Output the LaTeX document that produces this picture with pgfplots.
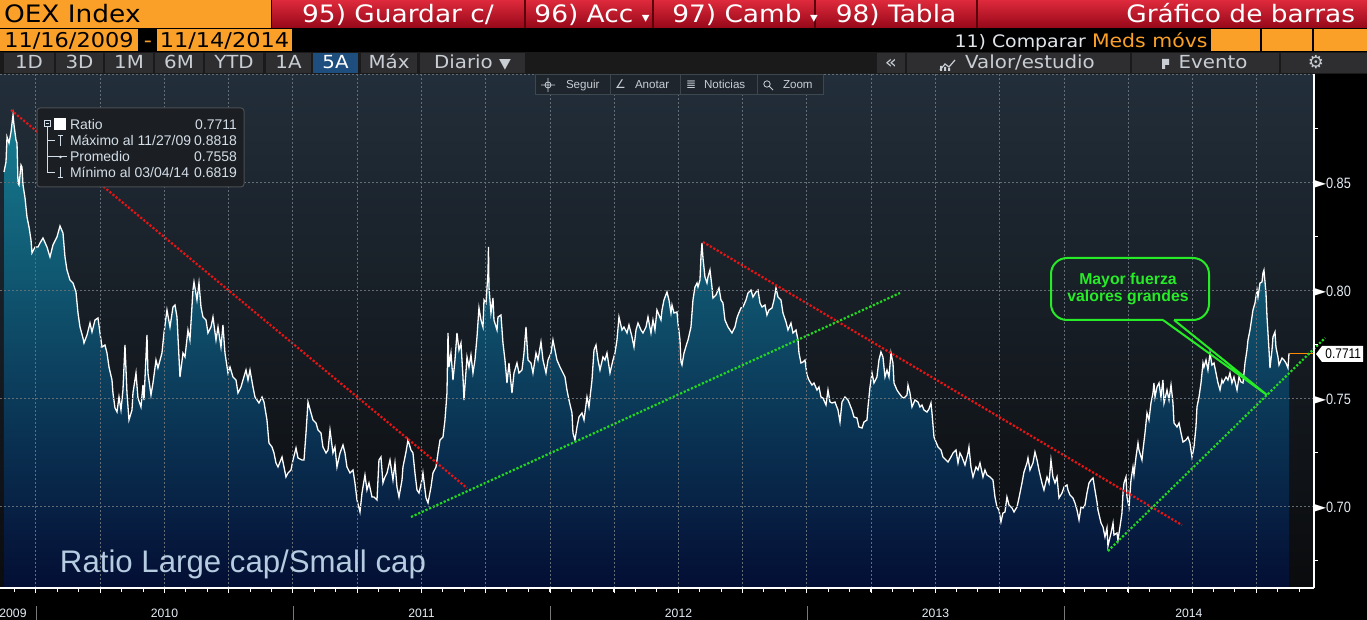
\documentclass[border=0pt]{standalone}
\usepackage{pgfplots}
\pgfplotsset{compat=1.18}
\usepackage{pgfplotstable}
\usepackage{fontspec}
\setmainfont{Liberation Sans}
\newfontfamily\bb{DejaVu Sans}[FakeStretch=1.1]
\newfontfamily\dv{DejaVu Sans}
\newfontfamily\cond{Liberation Sans}[FakeStretch=0.85]
\newcommand\fs[1]{\fontsize{#1}{#1}\selectfont}
\newcommand\tri{{\dv\fs{8}\textcolor{white}{►}}}
\definecolor{bborange}{RGB}{250,160,40}
\definecolor{bbredtop}{RGB}{222,42,60}
\definecolor{bbredbot}{RGB}{150,8,25}
\definecolor{bbsep}{RGB}{90,0,10}
\definecolor{rowbg}{RGB}{26,26,26}
\definecolor{btn}{RGB}{46,46,48}
\definecolor{btnblue}{RGB}{30,78,125}
\definecolor{btntext}{RGB}{200,206,212}
\definecolor{cmptext}{RGB}{225,230,235}
\definecolor{bgtop}{RGB}{34,46,58}
\definecolor{bgmid}{RGB}{20,25,30}
\definecolor{bgbot}{RGB}{10,11,13}
\definecolor{filltop}{RGB}{22,125,145}
\definecolor{fillmid}{RGB}{12,72,102}
\definecolor{fillbot}{RGB}{4,14,52}
\definecolor{gridc}{RGB}{100,108,118}
\definecolor{trred}{RGB}{230,20,20}
\definecolor{trgreen}{RGB}{35,215,35}
\definecolor{callg}{RGB}{40,235,40}
\definecolor{legbg}{RGB}{27,31,35}
\definecolor{legborder}{RGB}{75,78,82}
\definecolor{legtext}{RGB}{212,222,232}
\definecolor{bigtext}{RGB}{182,204,224}
\definecolor{lastorange}{RGB}{255,140,0}
\definecolor{tickc}{RGB}{228,236,244}
\definecolor{ctbg}{RGB}{30,37,44}
\definecolor{ctborder}{RGB}{62,70,78}
\definecolor{yearsep}{RGB}{120,120,120}

% Ratio OEX / small cap: x = horizontal pixel, y = vertical pixel
\pgfplotstableread{
x y
4 172
6 162
7 137
9 143
11 132
13 115
14 125
16 140
17 143
18 183
19 185
21 165
22 167
23 185
25 198
27 217
29 227
31 240
32 253
35 247
38 247
40 243
43 238
47 247
50 257
53 245
57 237
60 226
63 233
65 257
67 270
70 280
73 283
76 292
78 313
80 327
83 338
84 343
87 335
90 323
92 332
95 320
98 318
100 333
102 347
105 345
107 353
109 367
112 380
113 393
115 408
117 412
119 397
121 410
123 390
125 345
127 393
129 420
132 410
133 393
136 373
138 398
141 407
143 385
144 400
147 335
148 373
151 395
153 383
156 360
158 368
162 353
164 333
167 310
170 327
173 307
175 305
177 317
180 377
183 353
185 357
188 330
190 340
193 290
194 282
197 300
199 283
201 307
203 317
206 320
208 333
211 327
213 317
216 340
218 327
221 347
223 325
225 353
228 373
230 367
233 377
236 380
238 393
241 387
243 380
246 370
248 380
250 370
253 387
255 397
257 400
259 403
262 397
264 402
267 420
269 443
272 447
274 453
276 463
278 467
282 457
284 467
286 477
288 473
291 470
293 460
296 448
298 458
302 460
304 460
306 433
308 402
311 413
313 420
316 423
318 430
321 433
323 447
326 453
328 450
330 430
333 453
335 447
337 467
340 453
343 445
345 453
347 467
350 473
353 470
355 483
357 500
360 512
362 493
365 475
367 490
369 483
372 497
374 497
377 500
379 460
381 457
383 483
385 477
387 473
390 460
393 480
395 463
397 487
399 497
402 480
403 467
406 452
408 440
411 450
413 453
415 473
417 490
419 493
422 480
423 473
426 498
428 503
431 487
433 473
436 467
438 453
440 440
443 437
445 420
447 393
448 333
449 367
451 353
453 380
455 360
457 333
459 350
461 343
463 377
464 400
467 357
469 367
471 355
473 373
475 360
477 337
479 308
481 320
483 327
484 300
486 303
488 273
488.5 247
489 287
491 313
493 298
494 320
497 330
498 317
501 315
503 343
505 360
507 383
509 363
512 393
514 373
517 363
519 373
522 370
524 353
526 327
528 360
531 363
533 373
536 353
538 360
541 342
543 360
546 373
548 360
551 353
553 340
555 350
557 360
560 367
563 373
565 377
567 390
569 400
572 413
573 433
575 440
577 427
579 417
582 413
584 420
587 397
589 407
592 380
594 350
596 345
598 360
600 370
603 357
605 360
607 353
610 373
613 360
615 353
617 340
619 317
622 330
624 327
627 333
629 325
632 337
634 347
636 330
638 323
641 330
643 333
646 327
648 317
651 333
653 320
655 330
657 310
661 320
662 310
664 300
667 292
669 300
671 313
672 305
674 313
677 312
678 323
680 340
681 362
682 365
684 353
687 343
688 340
691 327
693 300
695 287
697 283
698 287
700 280
701 257
702 243
703 258
705 277
707 283
708 277
710 270
712 287
713 298
716 295
718 290
719 288
721 300
723 303
725 320
728 327
730 330
732 333
735 327
737 318
738 315
741 308
743 307
746 300
748 293
751 290
753 297
756 292
758 290
760 303
762 307
765 305
767 315
769 310
772 308
774 300
776 288
778 297
781 300
783 313
786 322
788 330
791 323
793 333
796 330
798 340
799 353
801 363
803 362
805 360
807 375
809 380
812 385
814 383
817 390
819 387
821 397
823 398
826 405
828 390
830 402
832 403
835 402
838 410
840 422
842 402
845 397
848 400
850 405
852 410
854 417
857 418
859 427
862 428
864 422
867 420
868 407
870 387
872 373
874 383
877 377
879 360
881 352
883 357
885 377
887 370
889 377
891 353
893 363
894 383
897 390
899 393
902 397
904 398
907 395
908 385
910 393
912 407
915 400
918 402
920 407
922 405
924 410
927 412
929 409
931 403
932 413
934 437
936 442
938 447
941 450
943 457
946 460
948 462
951 457
953 453
956 450
958 463
960 453
962 457
965 465
968 453
969 447
971 467
973 477
976 467
978 470
980 463
983 477
985 470
987 475
990 477
993 480
995 497
997 507
999 510
1001 522
1003 513
1005 512
1007 497
1009 505
1012 508
1014 512
1017 507
1019 498
1022 483
1024 472
1027 463
1028 458
1030 470
1033 463
1035 452
1037 460
1039 470
1042 483
1044 490
1047 477
1049 483
1051 460
1053 477
1055 483
1057 477
1059 498
1062 493
1064 487
1067 485
1068 490
1070 495
1073 498
1075 503
1077 510
1079 520
1081 507
1083 508
1085 505
1087 493
1089 483
1091 480
1093 478
1095 490
1097 502
1098 510
1101 523
1103 527
1105 537
1107 528
1108 546
1111 533
1113 523
1114 535
1117 533
1118 540
1120 527
1122 513
1123 493
1124 483
1126 477
1127 497
1129 507
1131 480
1133 467
1134 475
1136 457
1138 443
1139 450
1142 460
1143 450
1145 433
1147 413
1149 420
1151 403
1153 393
1154 383
1155 397
1157 387
1159 383
1161 397
1163 380
1164 403
1167 390
1169 400
1171 385
1173 403
1174 423
1177 427
1179 423
1181 433
1183 442
1186 440
1188 437
1190 443
1192 457
1194 447
1196 427
1197 407
1199 397
1201 383
1203 363
1204 367
1206 360
1208 370
1210 353
1212 365
1214 363
1216 373
1218 383
1220 390
1222 380
1223 383
1226 377
1228 380
1230 373
1232 383
1234 377
1237 390
1239 377
1241 382
1243 383
1245 363
1247 350
1248 340
1250 330
1252 317
1253 310
1255 303
1257 290
1258 297
1260 283
1262 282
1263 273
1264 270
1266 293
1267 317
1269 350
1270 368
1272 350
1273 337
1275 332
1276 347
1278 357
1279 365
1282 358
1284 360
1286 363
1288 368
1289 353.4
}\ratio

\begin{document}
\begin{tikzpicture}[x=0.5pt,y=-0.5pt,t/.style={inner sep=0pt,outer sep=0pt}]
\useasboundingbox (0,0) rectangle (1367,620);
\fill[black] (0,0) rectangle (1367,620);

\begin{axis}[
  at={(0pt,-294pt)}, anchor=south west,
  scale only axis, width=657pt, height=257pt,
  xmin=2009.85992, xmax=2014.97276,
  ymin=0.6625, ymax=0.90046,
  x filter/.expression={2010+(x-36)/257},
  y filter/.expression={0.70+(507-y)/2160},
  clip=false, axis on top,
  axis background/.style={top color=bgtop, middle color=bgmid, bottom color=bgbot},
  axis x line*=bottom, axis y line*=right,
  axis line style={white, line width=0.75pt},
  tick align=outside,
  major tick length=2.5pt, minor tick length=2pt,
  tick style={white, line width=0.5pt},
  xtick={2010,2010.25,...,2014.8},
  minor xtick={2009.9166667,2010,...,2014.95},
  xticklabels={},
  ytick={0.70,0.75,0.80,0.85,0.90},
  yticklabels={{\tri0.70},{\tri0.75},{\tri0.80},{\tri0.85},{}},
  minor ytick={0.675,0.725,0.775,0.825,0.875},
  every major y tick/.append style={draw=none},
  yticklabel style={font=\cond\fs{7.5}, text=tickc, anchor=west, inner sep=0pt, xshift=-2.8pt},
  xmajorgrids, ymajorgrids,
  major grid style={gridc, dash pattern=on 1pt off 1pt, line width=0.5pt},
  trline/.style={line width=1.1pt, dash pattern=on 1.1pt off 0.9pt},
]
\addplot[draw=none, top color=filltop, middle color=fillmid, bottom color=fillbot]
  table[x=x,y=y]{\ratio} |- (rel axis cs:0.003044,0) -- cycle;
\addplot[white, line width=0.65pt] table[x=x,y=y]{\ratio};
\addplot[lastorange, line width=0.6pt] coordinates {(1289,353.4) (1314,353.4)};
\addplot[trred, trline] coordinates {(11,110) (467,488)};
\addplot[trred, trline] coordinates {(703,242) (1182,525)};
\addplot[trgreen, trline] coordinates {(411,517) (900,293)};
\addplot[trgreen, trline] coordinates {(1108,551) (1325,338)};
\foreach \yr/\xp in {2009/2009.9105,2010/2010.5,2011/2011.5,2012/2012.5,2013/2013.5,2014/2014.486}{
  \edef\tmp{\noexpand\node[t,anchor=center,font=\noexpand\fs{6.1},text=tickc,yshift=-12.5pt] at (axis cs:\xp,0.6625) {\yr};}\tmp
}
\end{axis}

% year separators
\foreach \xx in {36,293,550,807,1064} \draw[yearsep, line width=0.5pt] (\xx,606) -- (\xx,620);

% last value tag
\fill[white] (1316,354) -- (1322,346) -- (1363,346) -- (1363,362) -- (1322,362) -- cycle;
\node[t,anchor=base east,font=\cond\fs{7},text=black] at (1361,358.5) {0.7711};

% legend box
\filldraw[fill=legbg, draw=legborder, line width=0.5pt, rounded corners=1.5pt] (37,108) rectangle (244,187);
\draw[legtext, line width=0.5pt] (44.3,120.7) rectangle (50,126.3);
\draw[legtext, line width=0.5pt] (45.5,123.5) -- (48.8,123.5);
\fill[white] (54.3,118.3) rectangle (65.7,130);
\draw[legtext, line width=0.5pt] (47,127) -- (47,173) -- (55,173);
\draw[legtext, line width=0.5pt] (47,141) -- (55,141) (47,157) -- (55,157);
\draw[legtext, line width=0.6pt] (57.7,135.5) -- (63.3,135.5) (60.5,135.5) -- (60.5,146);
\draw[legtext, line width=0.5pt] (55,157) -- (67,157);
\fill[legtext] (60.5,157) circle (1.4);
\draw[legtext, line width=0.6pt] (60.5,167) -- (60.5,177.5) (57.7,177.5) -- (63.3,177.5);
\begin{scope}[every node/.style={t,font=\fs{7},text=legtext}]
\node[anchor=base west] at (70,130) {Ratio};
\node[anchor=base west] at (70,146) {Máximo al 11/27/09};
\node[anchor=base west] at (70,162) {Promedio};
\node[anchor=base west] at (70,178) {Mínimo al 03/04/14};
\node[anchor=base east] at (237,130) {0.7711};
\node[anchor=base east] at (237,146) {0.8818};
\node[anchor=base east] at (237,162) {0.7558};
\node[anchor=base east] at (237,178) {0.6819};
\end{scope}

% big title
\node[t,anchor=base west,font=\fs{15.6},text=bigtext] at (60,572) {Ratio Large cap/Small cap};

% callout
\draw[callg, line width=1pt, rounded corners=8pt] (1163,320) -- (1051,320) -- (1051,258) -- (1209,258) -- (1209,320) -- (1174,320);
\draw[callg, line width=1pt, line join=miter] (1163,320) -- (1267,395) -- (1174,320);
\node[t,anchor=base,font=\bfseries\fs{7.9},text=callg] at (1128,285) {Mayor fuerza};
\node[t,anchor=base,font=\bfseries\fs{7.9},text=callg] at (1128,302) {valores grandes};

% ---------- header row 1
\fill[bborange] (0,0) rectangle (271,28);
\shade[top color=bbredtop, bottom color=bbredbot] (272,0) rectangle (1367,28);
\foreach \xx in {524,652,814,976} \fill[bbsep] (\xx,0) rectangle (\xx+2,28);
\begin{scope}[every node/.style={t,font=\bb\fs{12}}]
\node[anchor=base west,text=black] at (4,23) {OEX Index};
\node[anchor=base,text=white] at (398,23) {95) Guardar c/};
\node[anchor=base,text=white] at (592,23) {96) Acc {\fs{7}▾}};
\node[anchor=base,text=white] at (745,23) {97) Camb {\fs{7}▾}};
\node[anchor=base,text=white] at (896,23) {98) Tabla};
\node[anchor=base east,text=white] at (1355,23) {Gráfico de barras};
\end{scope}

% ---------- header row 2
\fill[black] (0,28) rectangle (1367,52);
\fill[bborange] (0,29) rectangle (138,51);
\fill[bborange] (157,29) rectangle (292,51);
\node[t,anchor=base,font=\bb\fs{10.2},text=black] at (69,48) {11/16/2009};
\node[t,anchor=base,font=\bb\fs{10.2},text=bborange] at (148,48) {-};
\node[t,anchor=base,font=\bb\fs{10.2},text=black] at (224.5,48) {11/14/2014};
\node[t,anchor=base east,font=\bb\fs{8.6},text=cmptext] at (1086,48) {11) Comparar};
\node[t,anchor=base west,font=\bb\fs{9.3},text=bborange] at (1092,48) {Meds móvs};
\fill[bborange] (1211,29) rectangle (1260,51);
\fill[bborange] (1262,29) rectangle (1312,51);
\fill[bborange] (1314,29) rectangle (1367,51);

% ---------- header row 3
\fill[rowbg] (0,52) rectangle (1367,74);
\begin{scope}[every node/.style={t,font=\bb\fs{9},text=btntext,anchor=base}]
\foreach \xa/\xb/\lab in {4/54/1D,56/103/3D,105/153/1M,155/203/6M,205/263/YTD,266/311/1A,361/417/Máx,420/525/Diario {\fs{7}▼}}{
  \fill[btn] (\xa,53) rectangle (\xb,73);
  \node at ({(\xa+\xb)/2},69) {\lab};
}
\fill[btnblue] (313,53) rectangle (358,73);
\node[text=white] at (335.5,69) {5A};
\fill[btn] (877,53) rectangle (905,73);
\node at (891,69) {«};
\fill[btn] (907,53) rectangle (1130,73);
\node at (1030,69) {Valor/estudio};
\fill[btn] (1132,53) rectangle (1279,73);
\node at (1213,69) {Evento};
\fill[btn] (1281,53) rectangle (1367,73);
\node[font=\dv\fs{9}] at (1316,69) {⚙};
\end{scope}
\draw[btntext, line width=0.6pt] (940,70) -- (945,64) -- (949,67) -- (955,60);
\fill[btntext] (940,66) rectangle (942,71) (944,67) rectangle (946,71) (948,68) rectangle (950,71);
\fill[btntext] (1162,59) rectangle (1169,65) (1162,65) rectangle (1165,69);

% ---------- chart toolbar
\filldraw[fill=ctbg, draw=ctborder, line width=0.5pt] (535,75) rectangle (823,95);
\draw[ctborder, line width=0.5pt] (610,75) -- (610,95) (680,75) -- (680,95) (757,75) -- (757,95);
\begin{scope}[every node/.style={t,font=\fs{5.8},text=btntext,anchor=base west}]
\node at (566,89) {Seguir};
\node at (635,89) {Anotar};
\node at (704,89) {Noticias};
\node at (783,89) {Zoom};
\node[font=\dv\fs{6}] at (615,89) {∠};
\node[font=\dv\fs{6}] at (686,89) {≣};
\end{scope}
\draw[btntext, line width=0.4pt] (548,85) circle (3) (541,85) -- (555,85) (548,78) -- (548,92);
\draw[btntext, line width=0.4pt] (767,84) circle (3.2) (769.5,86.5) -- (773,90);
\end{tikzpicture}
\end{document}
